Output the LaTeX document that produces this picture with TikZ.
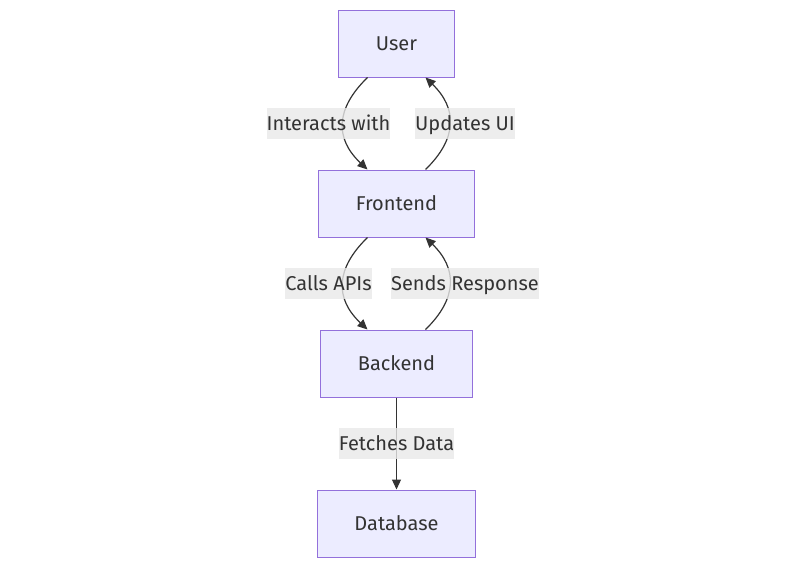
\documentclass[tikz,border=0pt]{standalone}
\usepackage{fontspec}
\setmainfont{Fira Sans}
\usetikzlibrary{positioning}
\usetikzlibrary{arrows.meta}
\definecolor{boxfill}{RGB}{236,236,255}
\definecolor{boxline}{RGB}{147,112,219}
\definecolor{edgeline}{RGB}{51,51,51}
\definecolor{lblfill}{RGB}{232,232,232}
\tikzset{blk/.style={draw=boxline,fill=boxfill,line width=1pt,inner xsep=37pt,minimum height=67pt,text height=14pt,text depth=0pt,font=\fontsize{20}{24}\selectfont,text=edgeline}}
\tikzset{lbl/.style={fill=lblfill,fill opacity=0.8,text opacity=1,inner xsep=0pt,minimum height=31pt,text height=14pt,text depth=0pt,font=\fontsize{20}{24}\selectfont,text=edgeline}}
\tikzset{edg/.style={draw=edgeline,line width=1.2pt,-{Triangle[length=10pt,width=9pt]}}}

\begin{document}
\begin{tikzpicture}[x=1pt, y=-1pt, on grid, node distance=160pt]
        \useasboundingbox (0,0) rectangle (800,568);
        \node[blk] (user) at (396.5,43.5) {User};
        \node[blk, below=of user] (front) {Frontend};
        \node[blk, below=of front] (back) {Backend};
        \node[blk, below=of back] (db) {Database};

        \draw[edg] ([xshift=-29pt]user.south) .. controls +(-32,31) and +(-33,-31) .. ([xshift=-29pt]front.north);
        \draw[edg] ([xshift=29pt]front.north) .. controls +(32,-31) and +(32,31) .. ([xshift=29pt]user.south);
        \draw[edg] ([xshift=-29pt]front.south) .. controls +(-32,31) and +(-33,-31) .. ([xshift=-29pt]back.north);
        \draw[edg] ([xshift=29pt]back.north) .. controls +(32,-31) and +(32,31) .. ([xshift=29pt]front.south);
        \draw[edg] (back) -- (db);

        \node[lbl] (interacts) at (328.5,123.5) {Interacts with};
        \node[lbl] (updates) at (465,123.5) {Updates UI};
        \node[lbl] (calls) at (328.5,283.5) {Calls APIs};
        \node[lbl] (sends) at (465,283.5) {Sends Response};
        \node[lbl] (fetches) at (396.5,443.5) {Fetches Data};
    \end{tikzpicture}
\end{document}
